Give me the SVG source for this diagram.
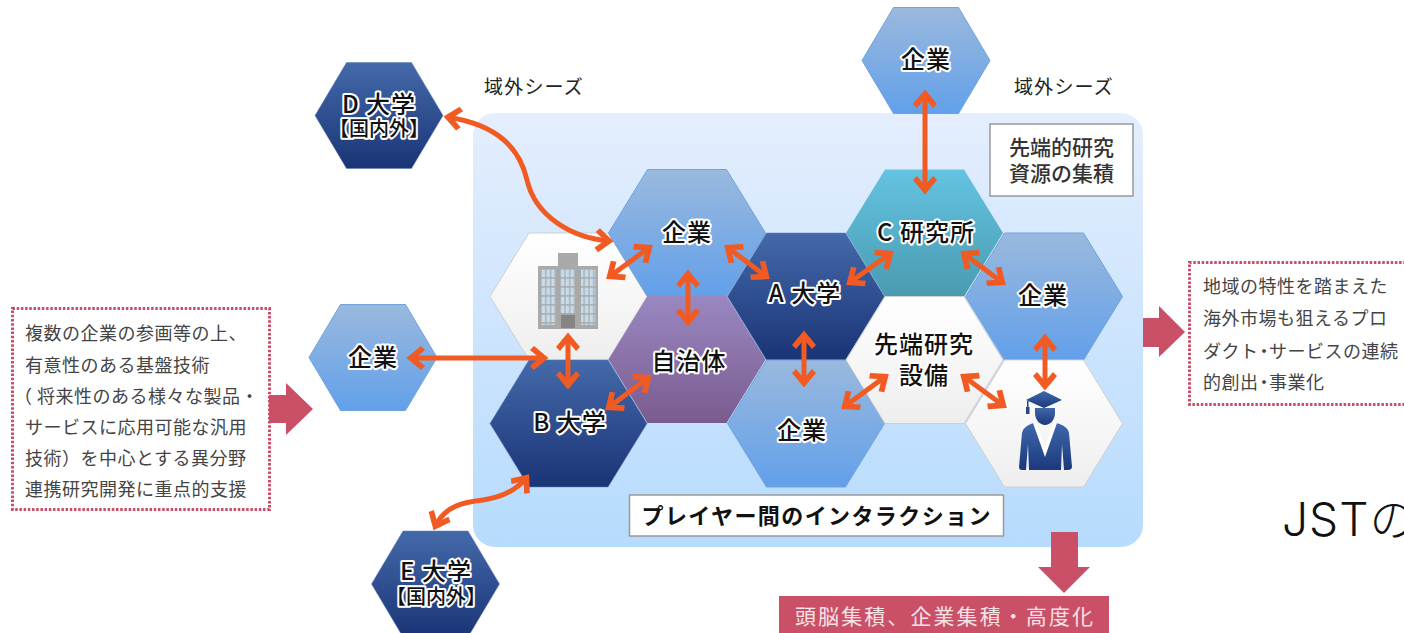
<svg xmlns="http://www.w3.org/2000/svg" width="1404" height="633" viewBox="0 0 1404 633">
<style>
text{font-family:"Noto Sans CJK JP","Noto Sans CJK SC",sans-serif}
.blue{fill:url(#gBlue);stroke:#6ea3de;stroke-width:1}
.dark{fill:url(#gDark);stroke:#5b7db5;stroke-width:.5}
.purple{fill:url(#gPurple)}
.teal{fill:url(#gTeal)}
.white{fill:url(#gWhite);stroke:#cfcfcf;stroke-width:1}
.l{font-size:24px;font-weight:500;fill:#111;text-anchor:middle;paint-order:stroke;stroke:#fff;stroke-width:4px;stroke-linejoin:round;letter-spacing:1px}
.sub{font-size:20px;letter-spacing:0}
.note{font-size:18px;fill:#444;letter-spacing:.5px}
.seed{font-size:19px;fill:#222;letter-spacing:1.2px}
.cap{fill:#fff;stroke:#999;stroke-width:1.5}
.dot{fill:none;stroke:#c94f68;stroke-width:3;stroke-dasharray:2.5 1.7}
.red{fill:#ca5068}
.arr{fill:none;stroke:#f15a22;stroke-width:5;marker-start:url(#ah);marker-end:url(#ah)}
.bld{fill:#a9a9a9}
</style>
<defs>
<linearGradient id="gPanel" x1="0" y1="0" x2="0" y2="1"><stop offset="0" stop-color="#e4eefd"/><stop offset="1" stop-color="#b6dbfd"/></linearGradient>
<linearGradient id="gBlue" x1="0" y1="0" x2="0" y2="1"><stop offset="0" stop-color="#9ab9dd"/><stop offset="1" stop-color="#62a0ea"/></linearGradient>
<linearGradient id="gDark" x1="0" y1="0" x2="0" y2="1"><stop offset="0" stop-color="#4469a9"/><stop offset="1" stop-color="#1a3476"/></linearGradient>
<linearGradient id="gPurple" x1="0" y1="0" x2="0" y2="1"><stop offset="0" stop-color="#9a88c2"/><stop offset="1" stop-color="#7a5b8e"/></linearGradient>
<linearGradient id="gTeal" x1="0" y1="0" x2="0" y2="1"><stop offset="0" stop-color="#64c3e2"/><stop offset="1" stop-color="#4a9bb0"/></linearGradient>
<linearGradient id="gWhite" x1="0" y1="0" x2="0" y2="1"><stop offset="0" stop-color="#ffffff"/><stop offset="1" stop-color="#eeeeee"/></linearGradient>
<linearGradient id="gGrad" x1="0" y1="0" x2="0" y2="1"><stop offset="0" stop-color="#3f68ac"/><stop offset="1" stop-color="#1d387c"/></linearGradient>
<polygon id="hx" points="-39.5,-63.5 39.5,-63.5 78.5,0 39.5,63.5 -39.5,63.5 -78.5,0"/>
<polygon id="hs" points="-32.5,-53 32.5,-53 64,0 32.5,53 -32.5,53 -64,0"/>
<marker id="ah" viewBox="-18 -14 22 28" refX="0" refY="0" markerWidth="22" markerHeight="28" markerUnits="userSpaceOnUse" orient="auto-start-reverse">
<path d="M3.500 0L-11 -12L-15 -8L-5.500 0L-15 8L-11 12Z" fill="#f15a22"/>
</marker>
<pattern id="win" width="4.8" height="9" patternUnits="userSpaceOnUse" x="541" y="269"><rect width="4.8" height="9" fill="#a9a9a9"/><rect x=".6" y=".6" width="3.6" height="7.6" fill="#c4dcec"/></pattern>
</defs>

<g id="panel"><rect x="473" y="113" width="670" height="434" rx="22" fill="url(#gPanel)"/></g>

<g id="node-building">
<use href="#hx" x="568.5" y="296.5" class="white"/>
<rect class="bld" x="538" y="266" width="60" height="63"/>
<rect class="bld" x="558" y="253" width="20" height="20"/>
<rect x="541" y="269" width="14.4" height="56" fill="url(#win)"/>
<rect x="560.5" y="269" width="14.4" height="44" fill="url(#win)"/>
<rect x="581" y="269" width="14.4" height="56" fill="url(#win)"/>
<rect x="561" y="315" width="14" height="13" fill="#858585"/>
</g>
<g id="node-kigyo1"><use href="#hx" x="687" y="233" class="blue"/><text class="l" x="687" y="241">企業</text></g>
<g id="node-jichitai"><use href="#hx" x="687" y="359.5" class="purple"/><text class="l" x="689" y="370">自治体</text></g>
<g id="node-b"><use href="#hx" x="568.5" y="423.5" class="dark"/><text class="l" x="570" y="431">B 大学</text></g>
<g id="node-a"><use href="#hx" x="806" y="296.5" class="dark"/><text class="l" x="805" y="302">A 大学</text></g>
<g id="node-kigyo2"><use href="#hx" x="806" y="423.5" class="blue"/><text class="l" x="802" y="439">企業</text></g>
<g id="node-c"><use href="#hx" x="924.5" y="233" class="teal"/><text class="l" x="926" y="241">C 研究所</text></g>
<g id="node-sentan"><use href="#hx" x="924.5" y="360" class="white"/><text class="l" x="924" y="353">先端研究<tspan x="924" dy="31">設備</tspan></text></g>
<g id="node-kigyo3"><use href="#hx" x="1044" y="296.5" class="blue"/><text class="l" x="1043" y="304">企業</text></g>
<g id="node-graduate">
<use href="#hx" x="1044" y="423.5" class="white"/>
<path fill="url(#gGrad)" d="M1035 408h20v5c0 7-5 12-10 12s-10-5-10-12z"/>
<path fill="url(#gGrad)" d="M1034 423l11 30 11-30c8 2 12 5 13 10l3 34c0 2-2 3-4 3h-4l-2-26-1 26h-32l-1-26-2 26h-4c-2 0-3-1-3-3l3-34c1-5 5-8 12-10z"/>
<path fill="#fff" d="M1033 423l12 34 12-34-3-1-9 24-9-24z"/>
<path fill="url(#gGrad)" d="M1044 391l18 9-18 8-18-8z"/>
<rect x="1027" y="401" width="1.5" height="7" fill="#27458a"/><rect x="1026" y="407" width="3.5" height="7" fill="#27458a"/>
</g>
<g id="node-d"><use href="#hs" x="379" y="115.500" class="dark"/><text class="l" x="379" y="113">D 大学<tspan class="sub" x="379" dy="23">【国内外】</tspan></text></g>
<g id="node-kigyo-top"><use href="#hs" x="926" y="60.5" class="blue"/><text class="l" x="926" y="68">企業</text></g>
<g id="node-kigyo-left"><use href="#hs" x="373" y="357.5" class="blue"/><text class="l" x="373" y="366">企業</text></g>
<g id="node-e"><use href="#hs" x="435.5" y="584" class="dark"/><text class="l" x="436" y="580">E 大学<tspan class="sub" x="436" dy="24">【国内外】</tspan></text></g>

<g id="connectors">
<path class="arr" d="M609 277L650 247"/>
<path class="arr" d="M727 247L767 277"/>
<path class="arr" d="M688 273V323"/>
<path class="arr" d="M568 336V386"/>
<path class="arr" d="M608 408L649 377"/>
<path class="arr" d="M804 334V384"/>
<path class="arr" d="M849 283L891 253"/>
<path class="arr" d="M963 253L1003 283"/>
<path class="arr" d="M844 407L886 376"/>
<path class="arr" d="M963 376L1004 406"/>
<path class="arr" d="M1045 337V387"/>
<path class="arr" d="M925 93V191"/>
<path class="arr" d="M410 358H545"/>
<path class="arr" d="M447 117C500 125 520 150 527 180C535 215 570 238 610 241"/>
<path class="arr" d="M435 527C445 505 465 502 483 500C503 497 517 490 527 477"/>
</g>

<g id="flow-arrows">
<polygon class="red" points="269,395 286,395 286,383 313,409 286,435 286,423 269,423"/>
<polygon class="red" points="1143,318 1159,318 1159,306 1185,332 1159,357 1159,347 1143,347"/>
<polygon class="red" points="1051,532 1078,532 1078,567 1090,567 1064,593 1038,567 1051,567"/>
</g>

<g id="note-left">
<rect class="dot" x="12.5" y="308.5" width="257" height="201"/>
<text class="note" x="25" y="340">複数の企業の参画等の上、</text>
<text class="note" x="25" y="372">有意性のある基盤技術</text>
<text class="note" x="14" y="403">（</text>
<text class="note" x="37" y="403">将来性のある様々な製品・</text>
<text class="note" x="25" y="434">サービスに応用可能な汎用</text>
<text class="note" x="25" y="465">技術）を中心とする異分野</text>
<text class="note" x="25" y="496">連携研究開発に重点的支援</text>
</g>
<g id="note-right">
<path class="dot" d="M1410 262.500H1189.500V404.500H1410"/>
<text class="note" x="1203" y="293">地域の特性を踏まえた</text>
<text class="note" x="1203" y="325">海外市場も狙えるプロ</text>
<text class="note" x="1203 1221.5 1240 1255 1269 1287.5 1306 1324.5 1343 1361.5 1380" y="358">ダクト・サービスの連続</text>
<text class="note" x="1203 1221.5 1240 1255 1269 1287.5 1306" y="389">的創出・事業化</text>
</g>

<g id="seeds">
<text class="seed" x="484" y="94">域外シーズ</text>
<text class="seed" x="1014" y="94">域外シーズ</text>
</g>
<g id="cap-resource">
<rect class="cap" x="990" y="124" width="143" height="72"/>
<text x="1061.500" y="155" font-size="21" font-weight="500" fill="#333" text-anchor="middle">先端的研究</text>
<text x="1061.500" y="181" font-size="21" font-weight="500" fill="#333" text-anchor="middle">資源の集積</text>
</g>
<g id="cap-player">
<rect class="cap" x="629.500" y="495" width="374" height="41"/>
<text x="816" y="524" font-size="22" font-weight="700" fill="#111" text-anchor="middle" textLength="349" lengthAdjust="spacing">プレイヤー間のインタラクション</text>
</g>
<g id="result">
<rect class="red" x="779" y="596" width="330" height="37"/>
<text x="944" y="624" font-size="21" fill="#f6e3e6" text-anchor="middle" textLength="298" lengthAdjust="spacing">頭脳集積、企業集積・高度化</text>
</g>
<text x="1282" y="536" font-size="46" font-weight="300" fill="#111" letter-spacing="1" style="font-family:Inter,'Noto Sans CJK JP',sans-serif">JSTの</text>
</svg>
